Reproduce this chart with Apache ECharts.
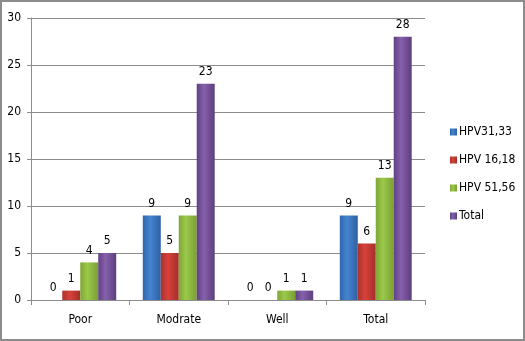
<!DOCTYPE html>
<html lang="en">
<head>
    <meta charset="UTF-8">
    <title>HPV</title>
    <script src="https://cdn.jsdelivr.net/npm/echarts@6/dist/echarts.min.js"></script>
    <style>
        html, body { margin: 0; padding: 0; background: #fff; }
        #charts {
            width: 521px;
            height: 337px;
            border: 2px solid #8c8c8c;
        }
    </style>
</head>
<body>
<div id="charts"></div>
<script>
    var categories = ['Poor', 'Modrate', 'Well', 'Total'];
    var seriesNames = ['HPV31,33', 'HPV 16,18', 'HPV 51,56', 'Total'];
    var hpv3133 = [0, 9, 0, 9];
    var hpv1618 = [1, 5, 0, 6];
    var hpv5156 = [4, 9, 1, 13];
    var totals = [5, 23, 1, 28];
    var yTicks = [0, 5, 10, 15, 20, 25, 30];

    var FONT = '"DejaVu Sans Condensed", "Liberation Sans Narrow", sans-serif';

    var colors = [
        ['#2f66aa', '#4684d0', '#2d61a2'],
        ['#ab322c', '#d6423a', '#a42e29'],
        ['#80a636', '#9bc94a', '#7a9f33'],
        ['#604182', '#8660ac', '#5c3e7d']
    ];
    function grad(c) {
        return new echarts.graphic.LinearGradient(0, 0, 1, 0, [
            {offset: 0, color: c[0]},
            {offset: 0.4, color: c[1]},
            {offset: 1, color: c[2]}
        ]);
    }

    var myChart = echarts.init(document.getElementById('charts'));
    var allData = [hpv3133, hpv1618, hpv5156, totals];
    var series = [];
    for (var i = 0; i < allData.length; i++) {
        series.push({
            name: seriesNames[i],
            type: 'bar',
            data: allData[i],
            barGap: '0%',
            barCategoryGap: '27%',
            itemStyle: {color: grad(colors[i])},
            label: {
                show: true,
                position: 'top',
                distance: 6,
                color: '#000',
                fontSize: 12,
                fontFamily: FONT
            },
            animation: false
        });
    }

    var option = {
        animation: false,
        color: ['#3a78c4', '#c4392f', '#8cb840', '#7a519d'],
        grid: {left: 29, right: 98, top: 16, bottom: 39},
        legend: {
            orient: 'vertical',
            left: 443,
            top: 119,
            itemWidth: 7,
            itemHeight: 7,
            itemGap: 16,
            icon: 'rect',
            textStyle: {color: '#000', fontSize: 12, fontFamily: FONT, padding: [0, 0, 0, -3]},
            data: seriesNames
        },
        xAxis: {
            type: 'category',
            data: categories,
            axisLine: {lineStyle: {color: '#8c8c8c'}},
            axisTick: {show: true, length: 5, lineStyle: {color: '#8c8c8c'}},
            axisLabel: {color: '#000', fontSize: 12, fontFamily: FONT, margin: 14}
        },
        yAxis: {
            type: 'value',
            min: yTicks[0],
            max: yTicks[yTicks.length - 1],
            interval: 5,
            axisLine: {show: true, lineStyle: {color: '#8c8c8c'}},
            axisTick: {show: true, length: 4, lineStyle: {color: '#8c8c8c'}},
            axisLabel: {color: '#000', fontSize: 12, fontFamily: FONT, margin: 10},
            splitLine: {lineStyle: {color: '#8c8c8c'}}
        },
        series: series
    };

    myChart.setOption(option);
</script>
</body>
</html>
